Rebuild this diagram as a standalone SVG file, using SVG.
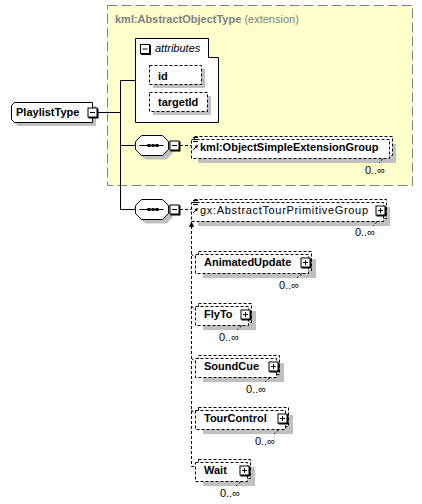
<svg xmlns="http://www.w3.org/2000/svg" width="422" height="504" viewBox="0 0 422 504">
<style>
.t{font-family:"Liberation Sans",Arial,sans-serif;font-size:11px;fill:#000}
.b{font-weight:bold}
.sh{fill:#c0c0c0}
.dbox{fill:#fff;stroke:#000;stroke-dasharray:3,2}
.sbox{fill:#fff;stroke:#000}
.ln{stroke:#000;fill:none}
.dln{stroke:#000;fill:none;stroke-dasharray:3,2}
.gray{fill:#808080}
</style>
<defs>
<path id="seq" d="M6,0H27L33,6V14L27,20H6L0,14V6Z"/>
<g id="minus"><rect x="1" y="1" width="10" height="10" fill="#000"/><rect x="0.5" y="0.5" width="9" height="9" class="sbox"/><path d="M2.5,5H7.5" class="ln"/></g>
<g id="plus"><rect x="1" y="1" width="10" height="10" fill="#000"/><rect x="0.5" y="0.5" width="9" height="9" class="sbox"/><path d="M2.5,5H7.5M5,2.5V7.5" class="ln"/></g>
<g id="refIcon"><path d="M2,2.5H7M2,4.5H7M2,6.5H7" class="ln"/><path d="M2,15L6,11" class="ln"/><path d="M7,10L3.5,11L6,13.5Z" fill="#000"/></g>
<g id="seqIcon"><path d="M4,10H28" class="ln"/><rect x="12" y="8.5" width="3" height="3" fill="#000"/><rect x="16" y="8.5" width="3" height="3" fill="#000"/><rect x="20" y="8.5" width="3" height="3" fill="#000"/></g>
</defs>

<g id="extension">
<rect x="107.5" y="5.5" width="305" height="180" fill="#FFFFCC" stroke="#808080" stroke-dasharray="10,4"/>
<text x="115" y="23" class="t"><tspan class="b gray">kml:AbstractObjectType</tspan><tspan class="gray"> (extension)</tspan></text>
</g>

<g id="connectors">
<path d="M98,112.5H120.5M120.5,80.5V209.5M120.5,80.5H135M120.5,145.5H135M120.5,209.5H135" class="ln"/>
<path d="M180,145.5H191M180,209.5H191" class="dln"/>
<path d="M191.5,226V466.5H195" class="dln"/>
<path d="M191.5,221L189,227H194Z" fill="#000"/>
<path d="M191.5,254L195,258M191.5,306L195,310M191.5,358L195,362M191.5,410L195,414" class="dln"/>
</g>

<g id="PlaylistType">
<path d="M18,106H96V126H18L15,123V109Z" class="sh"/>
<path d="M14.5,102.5H92.5V122.5H14.5L11.5,119.5V105.5Z" class="sbox"/>
<text x="16" y="116" class="t b">PlaylistType</text>
<use href="#minus" x="87.5" y="107.5"/>
</g>

<g id="attributes">
<path d="M135.5,38.5H208.5V57.5H218.5V122.5H135.5Z" class="sbox"/>
<use href="#minus" x="140" y="44"/>
<text x="155" y="52" class="t" font-style="italic">attributes</text>
</g>
<g id="attr-id">
<rect x="153" y="69" width="52" height="19" class="sh"/>
<rect x="149.5" y="65.5" width="52" height="19" class="dbox"/>
<text x="158" y="80" class="t b">id</text>
</g>
<g id="attr-targetId">
<rect x="153" y="96" width="58" height="19" class="sh"/>
<rect x="149.5" y="92.5" width="58" height="19" class="dbox"/>
<text x="158" y="106" class="t b">targetId</text>
</g>

<g id="sequence1">
<use href="#seq" x="139.5" y="139.5" class="sh"/>
<use href="#seq" x="135.5" y="135.5" class="sbox"/>
<use href="#seqIcon" x="135.5" y="135.5"/>
<use href="#minus" x="169.5" y="140.5"/>
</g>

<g id="kmlObjectSimpleExtensionGroup">
<rect x="198" y="144" width="198" height="19" class="sh"/>
<rect x="194.5" y="136.5" width="198" height="19" class="dbox"/>
<rect x="191.5" y="139.5" width="198" height="19" class="dbox"/>
<use href="#refIcon" x="191" y="135"/>
<text x="200" y="151" class="t b">kml:ObjectSimpleExtensionGroup</text>
<path d="M383,158.5L379,163" class="dln"/>
<text x="385" y="174" class="t" text-anchor="end">0..∞</text>
</g>

<g id="sequence2">
<use href="#seq" x="139.5" y="203.5" class="sh"/>
<use href="#seq" x="135.5" y="199.5" class="sbox"/>
<use href="#seqIcon" x="135.5" y="199.5"/>
<use href="#minus" x="169.5" y="204.5"/>
</g>

<g id="gxAbstractTourPrimitiveGroup">
<rect x="198" y="207" width="192" height="19" class="sh"/>
<rect x="194.5" y="199.5" width="192" height="19" class="dbox"/>
<rect x="191.5" y="202.5" width="192" height="19" class="dbox"/>
<use href="#refIcon" x="191" y="198"/>
<text x="200" y="214" class="t" textLength="168" lengthAdjust="spacing">gx:AbstractTourPrimitiveGroup</text>
<use href="#plus" x="375.5" y="205.5"/>
<path d="M377,221.5L373,226" class="dln"/>
<text x="375" y="236" class="t" text-anchor="end">0..∞</text>
</g>

<g id="AnimatedUpdate">
<rect x="203" y="259" width="113" height="19" class="sh"/>
<rect x="198.5" y="251.5" width="113" height="19" class="dbox"/>
<rect x="195.5" y="254.5" width="113" height="19" class="dbox"/>
<text x="204" y="266" class="t b">AnimatedUpdate</text>
<use href="#plus" x="300.5" y="257.5"/>
<path d="M302,273.5L297,278" class="dln"/>
<text x="299" y="289" class="t" text-anchor="end">0..∞</text>
</g>

<g id="FlyTo">
<rect x="203" y="311" width="53" height="19" class="sh"/>
<rect x="198.5" y="303.5" width="53" height="19" class="dbox"/>
<rect x="195.5" y="306.5" width="53" height="19" class="dbox"/>
<text x="204" y="318" class="t b">FlyTo</text>
<use href="#plus" x="240.5" y="309.5"/>
<path d="M242,325.5L237,330" class="dln"/>
<text x="239" y="341" class="t" text-anchor="end">0..∞</text>
</g>

<g id="SoundCue">
<rect x="203" y="363" width="81" height="19" class="sh"/>
<rect x="198.5" y="355.5" width="81" height="19" class="dbox"/>
<rect x="195.5" y="358.5" width="81" height="19" class="dbox"/>
<text x="204" y="370" class="t b">SoundCue</text>
<use href="#plus" x="268.5" y="361.5"/>
<path d="M270,377.5L265,382" class="dln"/>
<text x="266" y="393" class="t" text-anchor="end">0..∞</text>
</g>

<g id="TourControl">
<rect x="203" y="415" width="90" height="19" class="sh"/>
<rect x="198.5" y="407.5" width="90" height="19" class="dbox"/>
<rect x="195.5" y="410.5" width="90" height="19" class="dbox"/>
<text x="204" y="422" class="t b">TourControl</text>
<use href="#plus" x="277.5" y="413.5"/>
<path d="M279,429.5L274,434" class="dln"/>
<text x="275" y="445" class="t" text-anchor="end">0..∞</text>
</g>

<g id="Wait">
<rect x="203" y="467" width="52" height="19" class="sh"/>
<rect x="198.5" y="459.5" width="52" height="19" class="dbox"/>
<rect x="195.5" y="462.5" width="52" height="19" class="dbox"/>
<text x="204" y="474" class="t b">Wait</text>
<use href="#plus" x="239.5" y="465.5"/>
<path d="M241,481.5L236,486" class="dln"/>
<text x="240" y="497" class="t" text-anchor="end">0..∞</text>
</g>
</svg>
